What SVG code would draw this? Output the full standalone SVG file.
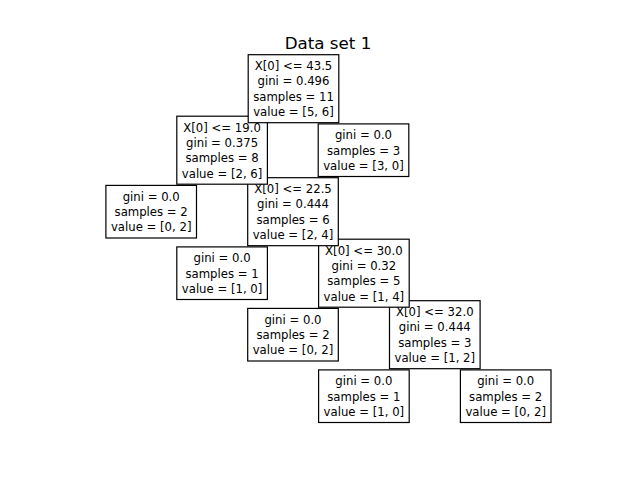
<svg xmlns="http://www.w3.org/2000/svg" width="640" height="480" viewBox="0 0 640 480">
<style>
.box{fill:#ffffff;stroke:#000000;stroke-width:1.2}
text{font-family:"DejaVu Sans",sans-serif;font-size:11.7px;fill:#000000;text-anchor:middle}
.title{font-size:16.7px}
</style>
<rect x="0" y="0" width="640" height="480" fill="#ffffff"/>
<text class="title" x="328" y="49">Data set 1</text>
<g id="connectors"/>
<g id="n5b">
<rect class="box" x="460.4" y="369.9" width="90.6" height="52.6"/>
<text x="505.7" y="385.3">gini = 0.0</text>
<text x="505.7" y="400.6">samples = 2</text>
<text x="505.7" y="415.9">value = [0, 2]</text>
</g>
<g id="n5a">
<rect class="box" x="318.6" y="369.9" width="90.6" height="52.6"/>
<text x="363.9" y="385.3">gini = 0.0</text>
<text x="363.9" y="400.6">samples = 1</text>
<text x="363.9" y="415.9">value = [1, 0]</text>
</g>
<g id="n4b">
<rect class="box" x="389.5" y="300.7" width="90.6" height="68"/>
<text x="434.8" y="316.1">X[0] &lt;= 32.0</text>
<text x="434.8" y="331.4">gini = 0.444</text>
<text x="434.8" y="346.8">samples = 3</text>
<text x="434.8" y="362.1">value = [1, 2]</text>
</g>
<g id="n4a">
<rect class="box" x="247.7" y="308.4" width="90.6" height="52.6"/>
<text x="293" y="323.8">gini = 0.0</text>
<text x="293" y="339.1">samples = 2</text>
<text x="293" y="354.4">value = [0, 2]</text>
</g>
<g id="n3b">
<rect class="box" x="318.6" y="239.2" width="90.6" height="68"/>
<text x="363.9" y="254.6">X[0] &lt;= 30.0</text>
<text x="363.9" y="269.9">gini = 0.32</text>
<text x="363.9" y="285.3">samples = 5</text>
<text x="363.9" y="300.6">value = [1, 4]</text>
</g>
<g id="n3a">
<rect class="box" x="176.8" y="246.9" width="90.6" height="52.6"/>
<text x="222.1" y="262.3">gini = 0.0</text>
<text x="222.1" y="277.6">samples = 1</text>
<text x="222.1" y="292.9">value = [1, 0]</text>
</g>
<g id="n2b">
<rect class="box" x="247.7" y="177.7" width="90.6" height="68"/>
<text x="293" y="193.1">X[0] &lt;= 22.5</text>
<text x="293" y="208.4">gini = 0.444</text>
<text x="293" y="223.8">samples = 6</text>
<text x="293" y="239.1">value = [2, 4]</text>
</g>
<g id="n2a">
<rect class="box" x="105.9" y="185.4" width="90.6" height="52.6"/>
<text x="151.2" y="200.8">gini = 0.0</text>
<text x="151.2" y="216.1">samples = 2</text>
<text x="151.2" y="231.4">value = [0, 2]</text>
</g>
<g id="n1b">
<rect class="box" x="318.2" y="123.9" width="90.6" height="52.6"/>
<text x="363.5" y="139.3">gini = 0.0</text>
<text x="363.5" y="154.6">samples = 3</text>
<text x="363.5" y="169.9">value = [3, 0]</text>
</g>
<g id="n1a">
<rect class="box" x="176.8" y="116.2" width="90.6" height="68"/>
<text x="222.1" y="131.6">X[0] &lt;= 19.0</text>
<text x="222.1" y="146.9">gini = 0.375</text>
<text x="222.1" y="162.3">samples = 8</text>
<text x="222.1" y="177.6">value = [2, 6]</text>
</g>
<g id="n0">
<rect class="box" x="248.2" y="54.7" width="90.6" height="68"/>
<text x="293.5" y="70.1">X[0] &lt;= 43.5</text>
<text x="293.5" y="85.4">gini = 0.496</text>
<text x="293.5" y="100.8">samples = 11</text>
<text x="293.5" y="116.1">value = [5, 6]</text>
</g>
</svg>
